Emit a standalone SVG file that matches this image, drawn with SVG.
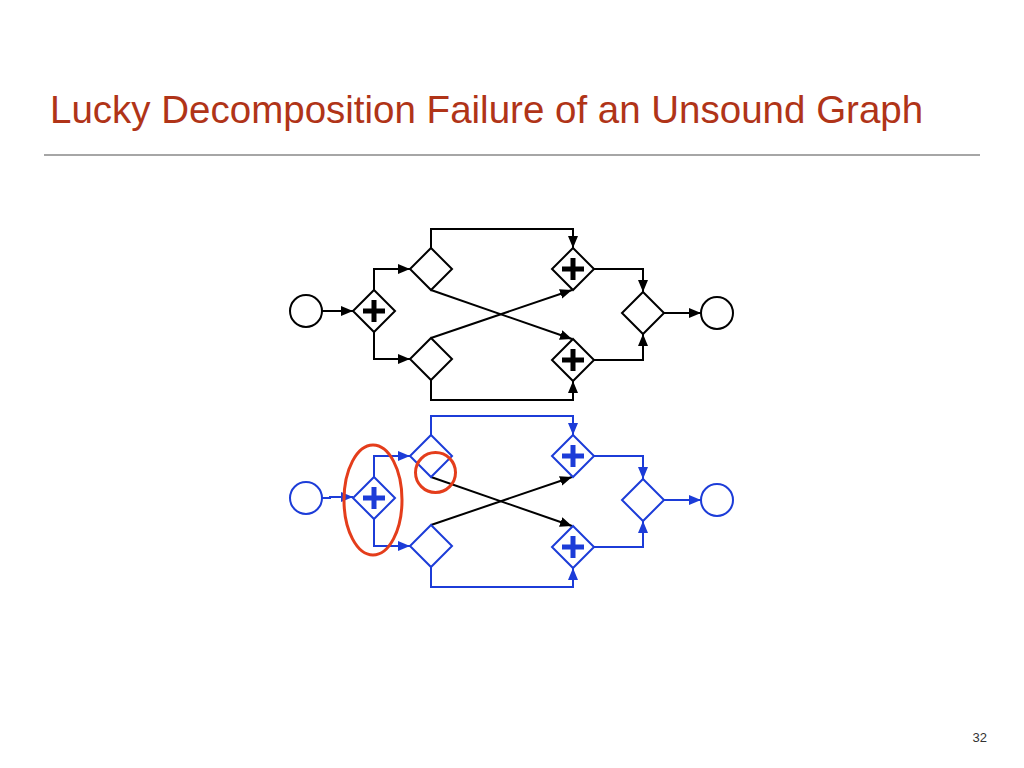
<svg xmlns="http://www.w3.org/2000/svg" width="1024" height="768" viewBox="0 0 1024 768">
<style>
.k{stroke:#000;fill:none;stroke-width:2}
.b{stroke:#1c3cd8;fill:none;stroke-width:2}
.nk{stroke:#000;fill:#fff;stroke-width:2}
.nb{stroke:#1c3cd8;fill:#fff;stroke-width:2}
.pk{stroke:#000;stroke-width:5;fill:none}
.pb{stroke:#1c3cd8;stroke-width:5;fill:none}
.hl{stroke:#e43d1b;stroke-width:3;fill:none}
</style>
<defs>
<marker id="ak" markerUnits="userSpaceOnUse" markerWidth="13" markerHeight="11" refX="12" refY="5" orient="auto"><path d="M0,0 L12,5 L0,10 z" fill="#000"/></marker>
<marker id="ab" markerUnits="userSpaceOnUse" markerWidth="13" markerHeight="11" refX="12" refY="5" orient="auto"><path d="M0,0 L12,5 L0,10 z" fill="#1c3cd8"/></marker>
</defs>
<rect width="1024" height="768" fill="#fff"/>
<text x="50" y="123" font-family="Liberation Sans, Arial, sans-serif" font-size="38.5" fill="#b03418">Lucky Decomposition Failure of an Unsound Graph</text>
<line x1="44" y1="155" x2="980" y2="155" stroke="#a6a6a6" stroke-width="2"/>
<text x="987" y="742" text-anchor="end" font-family="Liberation Sans, Arial, sans-serif" font-size="13" fill="#333">32</text>

<g id="connectors-top">
<path class="k" d="M322 311 H353" marker-end="url(#ak)"/>
<path class="k" d="M374 290 V269 H410" marker-end="url(#ak)"/>
<path class="k" d="M374 332 V359 H410" marker-end="url(#ak)"/>
<path class="k" d="M431 248 V229 H573 V248" marker-end="url(#ak)"/>
<path class="k" d="M431 380 V400 H573 V381" marker-end="url(#ak)"/>
<path class="k" d="M431 290 L572 339" marker-end="url(#ak)"/>
<path class="k" d="M431 338 L572 290" marker-end="url(#ak)"/>
<path class="k" d="M594 269 H643 V292" marker-end="url(#ak)"/>
<path class="k" d="M594 360 H643 V334" marker-end="url(#ak)"/>
<path class="k" d="M664 313 H701" marker-end="url(#ak)"/>
</g>
<g id="t-start"><circle class="nk" cx="306" cy="311" r="16"/></g>
<g id="t-split"><path class="nk" d="M374 290 L395 311 L374 332 L353 311 Z"/><path class="pk" d="M363 311 H385 M374 300 V322"/></g>
<g id="t-xorU"><path class="nk" d="M431 248 L452 269 L431 290 L410 269 Z"/></g>
<g id="t-xorL"><path class="nk" d="M431 338 L452 359 L431 380 L410 359 Z"/></g>
<g id="t-andU"><path class="nk" d="M573 248 L594 269 L573 290 L552 269 Z"/><path class="pk" d="M562 269 H584 M573 258 V280"/></g>
<g id="t-andL"><path class="nk" d="M573 339 L594 360 L573 381 L552 360 Z"/><path class="pk" d="M562 360 H584 M573 349 V371"/></g>
<g id="t-join"><path class="nk" d="M643 292 L664 313 L643 334 L622 313 Z"/></g>
<g id="t-end"><circle class="nk" cx="717" cy="313" r="16"/></g>

<g id="connectors-bottom">
<path class="b" d="M322 498 H330 V497 H353" marker-end="url(#ab)"/>
<path class="b" d="M374 477 V456 H410" marker-end="url(#ab)"/>
<path class="b" d="M374 519 V546 H410" marker-end="url(#ab)"/>
<path class="b" d="M431 435 V416 H573 V435" marker-end="url(#ab)"/>
<path class="b" d="M431 567 V587 H573 V568" marker-end="url(#ab)"/>
<path class="k" d="M431 477 L572 526" marker-end="url(#ak)"/>
<path class="k" d="M431 525 L572 477" marker-end="url(#ak)"/>
<path class="b" d="M594 456 H643 V479" marker-end="url(#ab)"/>
<path class="b" d="M594 547 H643 V521" marker-end="url(#ab)"/>
<path class="b" d="M664 500 H701" marker-end="url(#ab)"/>
</g>
<g id="b-start"><circle class="nb" cx="306" cy="498" r="16"/></g>
<g id="b-split"><path class="nb" d="M374 477 L395 498 L374 519 L353 498 Z"/><path class="pb" d="M363 498 H385 M374 487 V509"/></g>
<g id="b-xorU"><path class="nb" d="M431 435 L452 456 L431 477 L410 456 Z"/></g>
<g id="b-xorL"><path class="nb" d="M431 525 L452 546 L431 567 L410 546 Z"/></g>
<g id="b-andU"><path class="nb" d="M573 435 L594 456 L573 477 L552 456 Z"/><path class="pb" d="M562 456 H584 M573 445 V467"/></g>
<g id="b-andL"><path class="nb" d="M573 526 L594 547 L573 568 L552 547 Z"/><path class="pb" d="M562 547 H584 M573 536 V558"/></g>
<g id="b-join"><path class="nb" d="M643 479 L664 500 L643 521 L622 500 Z"/></g>
<g id="b-end"><circle class="nb" cx="717" cy="500" r="16"/></g>

<g id="highlights">
<ellipse class="hl" cx="373" cy="500" rx="29" ry="55"/>
<circle class="hl" cx="435.5" cy="472.5" r="20"/>
</g>
</svg>
